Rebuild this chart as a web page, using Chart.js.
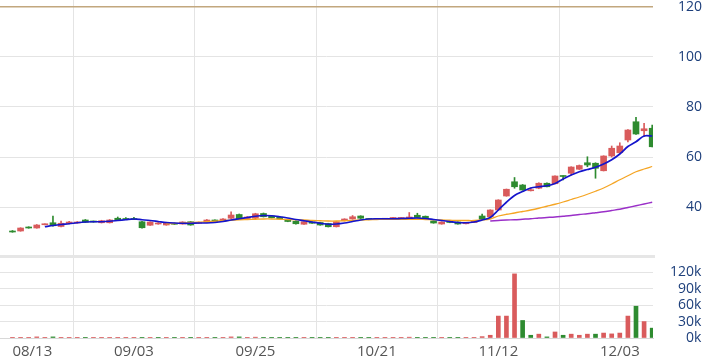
<!DOCTYPE html>
<html>
<head>
<meta charset="utf-8">
<script src="https://cdn.jsdelivr.net/npm/chart.js@4.4.1/dist/chart.umd.min.js"></script>
<style>
  html, body { margin: 0; padding: 0; background: #fff; }
  #wrap { position: relative; width: 716px; height: 361px; overflow: hidden; background: #fff; }
  #price { position: absolute; left: 0; top: 0; }
  #sep { position: absolute; left: 0; top: 255px; width: 655px; height: 3px; background: #e6e6e6; }
  #vol { position: absolute; left: 0; top: 258px; }
</style>
</head>
<body>
<div id="wrap">
  <canvas id="price" width="703" height="255"></canvas>
  <div id="sep"></div>
  <canvas id="vol" width="703" height="103"></canvas>
</div>
<script>
// trading days (Taiwan market, 2024)
const dates = [
  "08/13","08/14","08/15","08/16","08/19","08/20","08/21","08/22","08/23","08/26",
  "08/27","08/28","08/29","08/30","09/02","09/03","09/04","09/05","09/06","09/09",
  "09/10","09/11","09/12","09/13","09/16","09/18","09/19","09/20","09/23","09/24",
  "09/25","09/26","09/27","09/30","10/01","10/04","10/07","10/08","10/09","10/11",
  "10/14","10/15","10/16","10/17","10/18","10/21","10/22","10/23","10/24","10/25",
  "10/28","10/29","10/30","11/01","11/04","11/05","11/06","11/07","11/08","11/11",
  "11/12","11/13","11/14","11/15","11/18","11/19","11/20","11/21","11/22","11/25",
  "11/26","11/27","11/28","11/29","12/02","12/03","12/04","12/05","12/06","12/09"
];
const xTickDates = ["08/13", "09/03", "09/25", "10/21", "11/12", "12/03"];

const opens = [
  30.3, 30.4, 31.9, 31.6, 32.9, 33.7, 32.2, 33.4, 33.6, 34.8,
  34.2, 33.7, 33.7, 35.5, 35.4, 35.4, 34.1, 32.7, 33.2, 32.8,
  33.5, 33.2, 34.1, 33.5, 33.9, 34.8, 34.3, 35.5, 37.0, 35.4,
  35.5, 37.4, 36.4, 35.9, 35.0, 34.3, 33.1, 34.0, 33.8, 33.4,
  32.1, 34.5, 35.2, 36.4, 35.1, 35.0, 35.1, 35.1, 35.1, 35.2,
  36.7, 36.3, 34.4, 33.2, 34.0, 34.0, 33.3, 33.8, 36.4, 36.1,
  38.8, 44.4, 50.1, 48.8, 46.5, 47.5, 49.5, 49.3, 52.4, 53.5,
  55.1, 57.7, 57.5, 54.5, 60.4, 61.7, 66.8, 74.1, 70.5, 71.5
];
const highs = [
  30.6, 31.7, 32.1, 33.0, 33.3, 36.4, 34.4, 34.3, 34.2, 35.0,
  34.4, 34.7, 35.0, 36.0, 35.8, 35.9, 34.3, 34.1, 33.8, 33.9,
  33.6, 34.1, 34.2, 34.0, 35.0, 34.9, 35.4, 38.1, 37.2, 36.2,
  37.5, 37.6, 36.5, 36.0, 35.1, 34.5, 34.2, 34.1, 33.9, 33.5,
  34.2, 35.3, 36.6, 36.5, 35.2, 35.2, 35.2, 35.9, 35.9, 37.8,
  37.5, 36.4, 34.5, 34.1, 34.1, 34.1, 33.9, 34.5, 37.2, 38.9,
  42.9, 47.2, 51.8, 49.0, 47.6, 49.7, 49.7, 52.5, 52.5, 56.1,
  56.8, 60.1, 57.7, 60.5, 64.4, 65.7, 71.0, 75.9, 73.5, 72.8
];
const lows = [
  29.9, 30.3, 31.5, 31.5, 32.8, 32.3, 32.0, 33.2, 33.5, 33.8,
  33.9, 33.6, 33.6, 34.7, 34.9, 34.9, 31.5, 32.6, 33.1, 32.7,
  33.0, 33.1, 32.7, 33.4, 33.8, 34.0, 34.2, 35.3, 35.1, 35.3,
  35.3, 36.0, 35.6, 35.1, 34.1, 33.1, 33.0, 33.4, 32.7, 32.0,
  32.0, 34.4, 35.1, 35.4, 34.9, 34.9, 35.0, 35.0, 35.0, 35.1,
  35.6, 35.2, 33.5, 33.1, 33.7, 33.1, 33.2, 33.7, 35.0, 36.0,
  38.7, 44.3, 47.5, 46.7, 46.4, 47.3, 48.0, 49.2, 50.8, 52.8,
  55.0, 56.1, 51.5, 54.4, 60.0, 61.4, 66.0, 69.0, 68.1, 64.0
];
const closes = [
  30.0, 31.6, 31.6, 32.8, 33.1, 32.5, 33.5, 34.0, 34.0, 33.9,
  34.0, 34.5, 34.8, 34.8, 35.0, 35.0, 31.7, 34.0, 33.6, 33.7,
  33.1, 34.0, 32.8, 33.9, 34.8, 34.1, 35.2, 36.8, 35.3, 36.0,
  37.3, 36.1, 35.7, 35.2, 34.2, 33.3, 34.1, 33.5, 32.8, 32.1,
  34.1, 35.2, 36.1, 35.5, 35.0, 35.1, 35.1, 35.8, 35.8, 36.0,
  35.8, 35.3, 33.6, 34.0, 33.8, 33.2, 33.8, 34.4, 35.1, 38.8,
  42.8, 47.1, 48.1, 46.8, 46.7, 49.5, 48.1, 52.4, 52.2, 56.0,
  56.6, 56.8, 55.5, 60.4, 63.5, 64.4, 70.8, 69.2, 71.3, 64.1
];
// volume, thousands of shares
const volumes = [
  0.1, 0.1, 0.1, 2.0, 0.1, 2.0, 0.1, 0.1, 0.1, 0.1,
  0.1, 0.1, 0.1, 0.1, 0.1, 0.1, 0.1, 0.1, 0.1, 0.1,
  0.1, 0.1, 0.1, 0.1, 0.1, 0.1, 0.1, 2.0, 2.0, 0.1,
  1.5, 0.1, 0.1, 0.1, 0.1, 0.1, 0.1, 0.1, 0.1, 0.1,
  0.1, 0.1, 0.1, 0.1, 0.1, 0.1, 0.1, 0.1, 0.1, 1.5,
  0.1, 0.1, 0.1, 0.1, 0.1, 0.1, 0.2, 0.4, 2.5, 5,
  40, 40, 117, 32, 5, 7, 2, 11, 5, 7,
  5, 7, 7, 9, 7.5, 9, 40, 58, 30, 18
];

// moving averages (start index + values)
const ma5Start = 4;
const ma5 = [
  32.1, 32.6, 33.0, 33.3, 33.7, 34.0, 34.1, 34.1, 34.3, 34.6,
  34.9, 35.2, 34.9, 34.6, 34.2, 33.8, 33.6, 33.5, 33.5, 33.6,
  33.6, 33.8, 34.2, 34.8, 35.3, 35.8, 36.3, 36.6, 36.5, 36.1,
  35.6, 35.0, 34.5, 34.0, 33.5, 33.1, 33.2, 33.6, 34.2, 34.8,
  35.2, 35.3, 35.3, 35.3, 35.4, 35.5, 35.6, 35.4, 35.0, 34.6,
  34.2, 33.8, 33.7, 34.0, 34.8, 35.8, 38.8, 41.9, 44.6, 46.2,
  47.6, 48.1, 48.5, 49.4, 51.2, 52.8, 54.1, 55.0, 55.9, 57.2,
  58.9, 61.2, 64.2, 66.1, 68.4, 68.4
];
const ma20Start = 19;
const ma20 = [
  33.3, 33.4, 33.6, 33.8, 33.9, 34.1, 34.3, 34.5, 34.7, 34.9,
  35.0, 35.1, 35.2, 35.2, 35.1, 35.0, 34.9, 34.8, 34.6, 34.5,
  34.4, 34.4, 34.5, 34.6, 34.8, 34.9, 35.0, 35.1, 35.1, 35.1,
  35.1, 35.1, 35.0, 34.9, 34.8, 34.7, 34.6, 34.6, 34.6, 34.8,
  35.2, 36.4, 37.1, 37.6, 38.2, 38.8, 39.5, 40.3, 41.1, 42.0,
  43.0, 44.0, 45.1, 46.3, 47.6, 49.2, 50.9, 52.5, 54.1, 55.2,
  56.2
];
const ma60Start = 59;
const ma60 = [
  34.4, 34.6, 34.8, 34.9, 35.1, 35.3, 35.6, 35.8, 36.0, 36.3,
  36.6, 37.0, 37.3, 37.7, 38.1, 38.6, 39.1, 39.8, 40.5, 41.2,
  41.9
];
const priceTicks = [40, 60, 80, 100, 120];
const volumeTicks = [0, 30, 60, 90, 120];

const UP = "#d95b5c";
const DOWN = "#2e8b30";
const GRID = "#e4e4e4";
const FIG = "\u2007"; // figure space, same width as a digit
const tickIdx = xTickDates.map((d) => dates.indexOf(d));

const candleColors = closes.map((c, i) => (c >= opens[i] ? UP : DOWN));
const volColors = closes.map((c, i) => (i === 0 || c >= closes[i - 1] ? UP : DOWN));

function maPoints(start, arr) {
  return arr.map((v, k) => ({ x: start + k, y: v }));
}

function padLeft(text, len) {
  return FIG.repeat(Math.max(0, len - text.length)) + text;
}

function xScale(showLabels) {
  return {
    type: "linear",
    offset: false,
    min: -1.54,
    max: 79.1,
    afterBuildTicks: (s) => {
      const t = tickIdx.map((v) => ({ value: v }));
      if (showLabels) t.push({ value: 79.1 });
      s.ticks = t;
    },
    afterFit: (s) => {
      s.paddingLeft = 0;
      s.paddingRight = 0;
      if (showLabels) s.height = 23;
    },
    grid: {
      color: (ctx) => (ctx.tick && ctx.tick.value > 79 ? "rgba(0,0,0,0)" : GRID),
      drawTicks: false,
    },
    border: { display: showLabels, color: "#d8d8d8", width: 1 },
    ticks: {
      display: showLabels,
      align: "inner",
      padding: 5,
      color: "#555",
      font: { family: "'Open Sans'", size: 15 },
      maxRotation: 0,
      autoSkip: false,
      callback: (v) => (Number.isInteger(v) ? dates[v] : ""),
    },
  };
}

// right axis 50px wide, so the plot ends at x=653 on the 703px canvas
function yFit(s) {
  s.width = 50;
  s.paddingTop = 0;
  s.paddingBottom = 0;
}

Chart.defaults.animation = false;
Chart.defaults.plugins.legend.display = false;
Chart.defaults.plugins.tooltip.enabled = false;

new Chart(document.getElementById("price"), {
  type: "bar",
  data: {
    datasets: [
      {
        type: "line", data: maPoints(ma5Start, ma5), borderColor: "#1414cc",
        borderWidth: 1.7, pointRadius: 0, tension: 0.3, order: 0,
      },
      {
        type: "line", data: maPoints(ma20Start, ma20), borderColor: "#f5a524",
        borderWidth: 1.3, pointRadius: 0, tension: 0.3, order: 0,
      },
      {
        type: "line", data: maPoints(ma60Start, ma60), borderColor: "#9a2fc8",
        borderWidth: 1.5, pointRadius: 0, tension: 0.3, order: 0,
      },
      {
        data: opens.map((o, i) => ({ x: i, y: [o, closes[i]] })),
        backgroundColor: candleColors, barThickness: 6, minBarLength: 1,
        grouped: false, order: 1,
      },
      {
        data: lows.map((l, i) => ({ x: i, y: [l, highs[i]] })),
        backgroundColor: candleColors, barThickness: 1,
        grouped: false, order: 2,
      },
    ],
  },
  options: {
    responsive: false,
    layout: { padding: 0 },
    scales: {
      x: xScale(false),
      y: {
        position: "right",
        min: 20.8,
        max: 122.8,
        afterBuildTicks: (s) => { s.ticks = priceTicks.map((v) => ({ value: v })); },
        afterFit: yFit,
        grid: {
          color: (ctx) => (ctx.tick && ctx.tick.value === 120 ? "#c2a77e" : GRID),
          lineWidth: (ctx) => (ctx.tick && ctx.tick.value === 120 ? 1.5 : 1),
          drawTicks: false,
        },
        border: { display: false },
        ticks: {
          padding: 25,
          crossAlign: "near",
          color: "#1d3f7b",
          font: { family: "'Open Sans'", size: 14 },
          callback: (v) => padLeft(String(v), 3),
        },
      },
    },
  },
});

new Chart(document.getElementById("vol"), {
  type: "bar",
  data: {
    datasets: [
      {
        data: volumes.map((v, i) => ({ x: i, y: v })),
        backgroundColor: volColors, barThickness: 4, grouped: false,
      },
    ],
  },
  options: {
    responsive: false,
    layout: { padding: 0 },
    scales: {
      x: xScale(true),
      y: {
        position: "right",
        min: 0,
        max: 146,
        afterBuildTicks: (s) => { s.ticks = volumeTicks.map((v) => ({ value: v })); },
        afterFit: yFit,
        grid: { color: GRID, drawTicks: false },
        border: { display: false },
        ticks: {
          padding: 17,
          crossAlign: "near",
          color: "#1d3f7b",
          font: { family: "'Open Sans'", size: 14 },
          callback: (v) => padLeft(String(v), 3) + "k",
        },
      },
    },
  },
});
</script>
</body>
</html>
